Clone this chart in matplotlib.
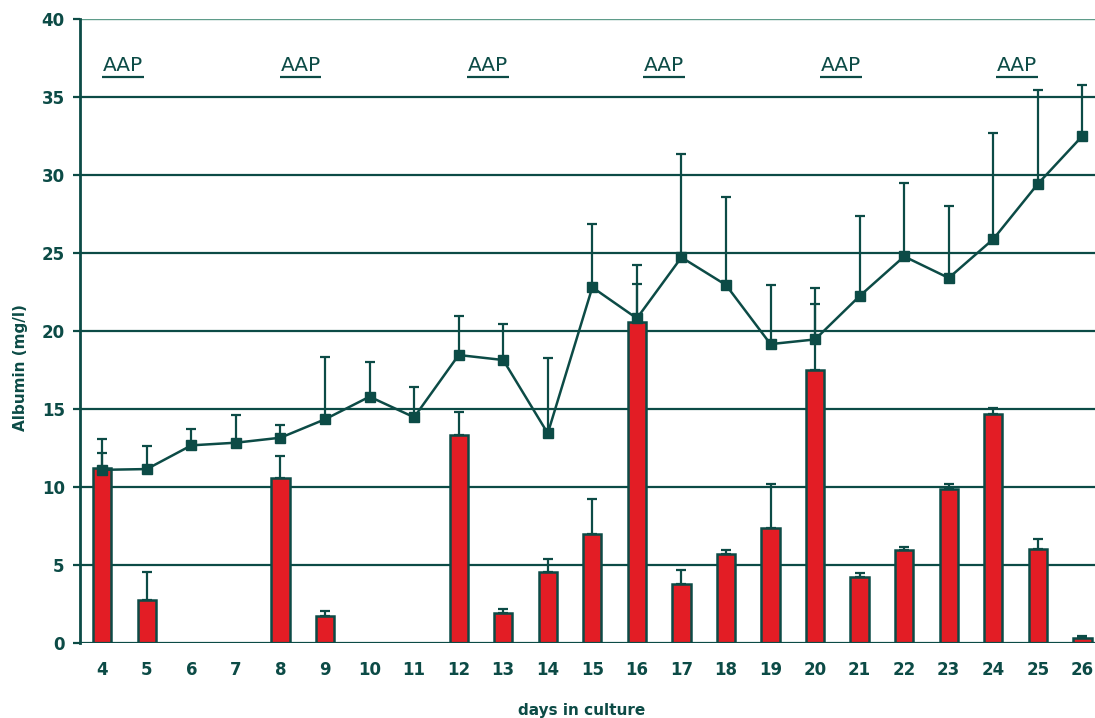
import matplotlib
matplotlib.use("Agg")
import matplotlib.pyplot as plt
import numpy as np

# Days in culture
days = list(range(4, 27))

# Albumin secreted per day (bars, mg/l) and upper error
daily_albumin = [11.25, 2.75, 0, 0, 10.6, 1.7, 0, 0, 13.35, 1.95, 4.55, 7.0,
                 20.6, 3.8, 5.7, 7.4, 17.5, 4.25, 5.95, 9.9, 14.7, 6.05, 0.3]
daily_err = [0.95, 1.78, 0, 0, 1.37, 0.35, 0, 0, 1.45, 0.2, 0.83, 2.2,
             2.4, 0.88, 0.24, 2.8, 4.25, 0.23, 0.18, 0.27, 0.35, 0.62, 0.14]

# Albumin in the line series (mg/l) and upper error
line_albumin = [11.1, 11.15, 12.67, 12.84, 13.16, 14.34, 15.79, 14.47, 18.46,
                18.14, 13.44, 22.8, 20.81, 24.72, 22.95, 19.16, 19.46, 22.24,
                24.78, 23.4, 25.89, 29.43, 32.5]
line_err = [1.96, 1.45, 1.07, 1.76, 0.81, 4.01, 2.2, 1.96, 2.48, 2.29, 4.81,
            4.04, 3.45, 6.61, 5.65, 3.77, 3.32, 5.1, 4.72, 4.63, 6.79, 5.99, 3.24]

# AAP treatment labels (x positions in days)
aap_label = "AAP"
aap_pos = [4.47, 8.45, 12.65, 16.6, 20.58, 24.54]

y_ticks = [0, 5, 10, 15, 20, 25, 30, 35, 40]

TEAL = "#0c4b46"
RED = "#e31d25"

plt.rcParams["font.family"] = ["DejaVu Sans"]

fig = plt.figure(figsize=(10.95, 7.18), dpi=100)
fig.patch.set_facecolor("white")
ax = fig.add_axes([80 / 1095, 75 / 718, 23 * 44.55 / 1095, 624 / 718])

x = np.array(days, dtype=float)
bars = np.array(daily_albumin)
berr = np.array(daily_err)
mask = bars > 0

# grid lines
for yv in y_ticks[1:-1]:
    ax.axhline(yv, color=TEAL, lw=1.6, zorder=1)
ax.axhline(40, color="#5f9c8a", lw=1.0, zorder=1)
ax.axhline(0, color=TEAL, lw=1.6, zorder=4)

ax.bar(x[mask], bars[mask], width=0.41, color=RED, edgecolor=TEAL,
       linewidth=1.8, zorder=3)
ax.errorbar(x[mask], bars[mask], yerr=[np.zeros(mask.sum()), berr[mask]],
            fmt="none", ecolor=TEAL, elinewidth=1.6, capsize=3.5,
            capthick=1.6, zorder=3.5)

ax.errorbar(x, line_albumin, yerr=[np.zeros(len(x)), line_err],
            fmt="none", ecolor=TEAL, elinewidth=1.6, capsize=3.5,
            capthick=1.6, zorder=5)
ax.plot(x, line_albumin, color=TEAL, lw=1.8, marker="s", markersize=6.5,
        markerfacecolor=TEAL, markeredgecolor=TEAL, zorder=6)

for xp in aap_pos:
    ax.text(xp, 37.05, aap_label, ha="center", va="center", fontsize=14.5,
            color=TEAL, zorder=7)
    ax.plot([xp - 0.47, xp + 0.47], [36.3, 36.3], color=TEAL, lw=1.6,
            solid_capstyle="butt", zorder=7)

ax.set_xlim(3.5, 26.5)
ax.set_ylim(0, 40)
ax.set_yticks(y_ticks)
ax.set_yticklabels([str(v) for v in y_ticks])
ax.set_xticks(days)
ax.set_xticklabels([str(d) for d in days])

for side in ["top", "right", "bottom"]:
    ax.spines[side].set_visible(False)
ax.spines["left"].set_color(TEAL)
ax.spines["left"].set_linewidth(2.0)
ax.spines["left"].set_zorder(8)

ax.tick_params(axis="y", length=5, width=1.6, color=TEAL, pad=6,
               labelsize=12, labelcolor=TEAL)
ax.tick_params(axis="x", length=0, pad=13, labelsize=12, labelcolor=TEAL)
for lbl in ax.get_xticklabels() + ax.get_yticklabels():
    lbl.set_fontweight("bold")

fig.text(21 / 1095, 1 - 368 / 718, "Albumin (mg/l)", rotation=90,
         ha="center", va="center", fontsize=11, fontweight="bold", color=TEAL)
fig.text(582 / 1095, 1 - 710 / 718, "days in culture", ha="center",
         va="center", fontsize=11, fontweight="bold", color=TEAL)

fig.savefig("out.png", dpi=100, facecolor="white")
